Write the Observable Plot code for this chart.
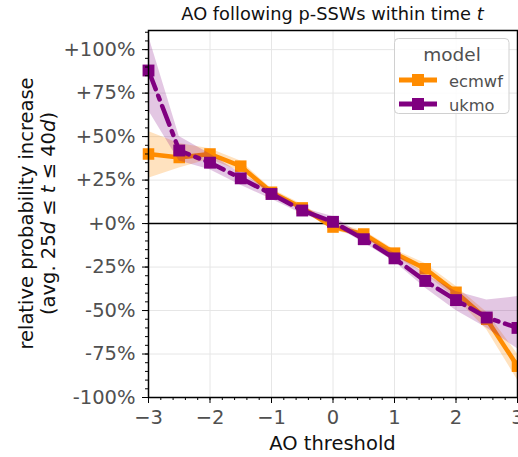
<!DOCTYPE html>
<html>
<head>
<meta charset="utf-8">
<script src="https://cdn.jsdelivr.net/npm/d3@7"></script>
<script src="https://cdn.jsdelivr.net/npm/@observablehq/plot@0.6"></script>
<style>
  html, body { margin: 0; padding: 0; background: white; }
</style>
</head>
<body>
<div id="chart"></div>
<script>
// ---- data ----
const thresholds = [-3, -2.5, -2, -1.5, -1, -0.5, 0, 0.5, 1, 1.5, 2, 2.5, 3];
const ecmwfMean = [40, 38, 40, 33, 18, 9, -2, -6, -17, -26, -39.5, -55, -82];
const ecmwfLow  = [26, 32, 37, 30, 16, 7.5, -4, -8, -19, -29, -43, -61, -90];
const ecmwfHigh = [53, 46, 43, 36, 20, 11, 0, -4, -15, -23, -36, -51, -75];
const ukmoMean  = [88, 42, 35, 26, 17, 7.5, 1, -9, -20, -33, -44, -54, -60];
const ukmoLow   = [65, 36, 31, 22, 14, 5.5, -1, -11, -22, -37, -50, -60, -72];
const ukmoHigh  = [108, 50, 40, 29, 19, 9, 4, -7, -17, -29, -39, -44, -42];
const models = ["ecmwf", "ukmo"];
const modelColors = ["#ff8c00", "#800080"];
const yTicks = [-100, -75, -50, -25, 0, 25, 50, 75, 100];
const xTicks = [-3, -2, -1, 0, 1, 2, 3];
const yMinorTicks = d3.range(-100, 111, 5);
const xMinorTicks = d3.range(-30, 31, 2).map(d => d / 10);

const ecmwf = thresholds.map((x, i) => ({x, y: ecmwfMean[i], lo: ecmwfLow[i], hi: ecmwfHigh[i]}));
const ukmo = thresholds.map((x, i) => ({x, y: ukmoMean[i], lo: ukmoLow[i], hi: ukmoHigh[i]}));

const FONT = "DejaVu Sans";
const tickFont = 19.5;
const tickColor = "#505050";

const svg = Plot.plot({
  width: 518,
  height: 457,
  marginLeft: 148,
  marginRight: 1,
  marginTop: 30,
  marginBottom: 60,
  style: {fontFamily: FONT, fontSize: tickFont + "px", background: "white", color: "#222", overflow: "visible"},
  x: {domain: [-3, 3]},
  y: {domain: [-100, 111]},
  marks: [
    Plot.gridX(xTicks, {stroke: "#e6e6e6", strokeOpacity: 1, strokeWidth: 1}),
    Plot.gridY(yTicks, {stroke: "#e6e6e6", strokeOpacity: 1, strokeWidth: 1}),
    Plot.ruleY([0], {stroke: "black", strokeWidth: 1.5}),
    Plot.areaY(ecmwf, {x: "x", y1: "lo", y2: "hi", fill: modelColors[0], fillOpacity: 0.25}),
    Plot.lineY(ecmwf, {x: "x", y: "y", stroke: modelColors[0], strokeWidth: 4.5}),
    Plot.dot(ecmwf, {x: "x", y: "y", symbol: "square", r: 6.5, fill: modelColors[0], stroke: "none"}),
    Plot.areaY(ukmo, {x: "x", y1: "lo", y2: "hi", fill: modelColors[1], fillOpacity: 0.22}),
    Plot.lineY(ukmo, {x: "x", y: "y", stroke: modelColors[1], strokeWidth: 4.5, strokeDasharray: "20,7,4,7"}),
    Plot.dot(ukmo, {x: "x", y: "y", symbol: "square", r: 6.7, fill: modelColors[1], stroke: "none"}),
    Plot.axisX(xMinorTicks, {tickSize: 3, tickFormat: () => "", label: null, stroke: "black"}),
    Plot.axisY(yMinorTicks, {tickSize: 3, tickFormat: () => "", label: null, stroke: "black"}),
    Plot.axisX(xTicks, {tickSize: 6, tickPadding: 7, tickFormat: d => d < 0 ? "\u2212" + Math.abs(d) : String(d), label: null, stroke: "black", fill: tickColor, fontSize: tickFont}),
    Plot.axisY(yTicks, {tickSize: 6, tickPadding: 7, tickFormat: d => (d >= 0 ? "+" : "-") + Math.abs(d) + "%", label: null, stroke: "black", fill: tickColor, fontSize: tickFont}),
    Plot.frame({stroke: "black", strokeWidth: 1.5})
  ]
});

const s = d3.select(svg);
function addText(parent, x, y, size, parts, opts = {}) {
  const t = parent.append("text")
    .attr("x", x).attr("y", y)
    .attr("font-family", FONT)
    .attr("font-size", size)
    .attr("fill", opts.fill || "#111")
    .attr("text-anchor", opts.anchor || "middle");
  if (opts.transform) t.attr("transform", opts.transform);
  parts.forEach(([txt, it]) => {
    const ts = t.append("tspan").text(txt);
    if (it) ts.attr("font-style", "italic");
  });
  return t;
}
// title
addText(s, 332.5, 20, 17.8, [["AO following p-SSWs within time ", false], ["t", true]]);
// x label
addText(s, 332.5, 450, 19.5, [["AO threshold", false]]);
// y label (two lines)
addText(s, 0, 0, 19.5, [["relative probability increase", false]], {transform: "translate(33,213.5) rotate(-90)"});
addText(s, 0, 0, 19.5, [["(avg. 25", false], ["d", true], [" \u2264 ", false], ["t", true], [" \u2264 40", false], ["d", true], [")", false]], {transform: "translate(55,213.5) rotate(-90)"});

// legend
const lg = s.append("g");
lg.append("rect").attr("x", 394.5).attr("y", 38.5).attr("width", 114.5).attr("height", 75)
  .attr("rx", 4).attr("fill", "white").attr("fill-opacity", 0.85).attr("stroke", "#d0d0d0");
addText(lg, 452, 61, 18.5, [["model", false]], {fill: "#505050"});
models.forEach((m, i) => {
  const yy = 80 + i * 24;
  lg.append("line").attr("x1", 399).attr("x2", 437).attr("y1", yy).attr("y2", yy)
    .attr("stroke", modelColors[i]).attr("stroke-width", 5);
  lg.append("rect").attr("x", 412).attr("y", yy - 6).attr("width", 12).attr("height", 12)
    .attr("fill", modelColors[i]);
  addText(lg, 449, yy + 6.5, 16.3, [[m, false]], {fill: "#505050", anchor: "start"});
});

document.getElementById("chart").appendChild(svg);
</script>
</body>
</html>
